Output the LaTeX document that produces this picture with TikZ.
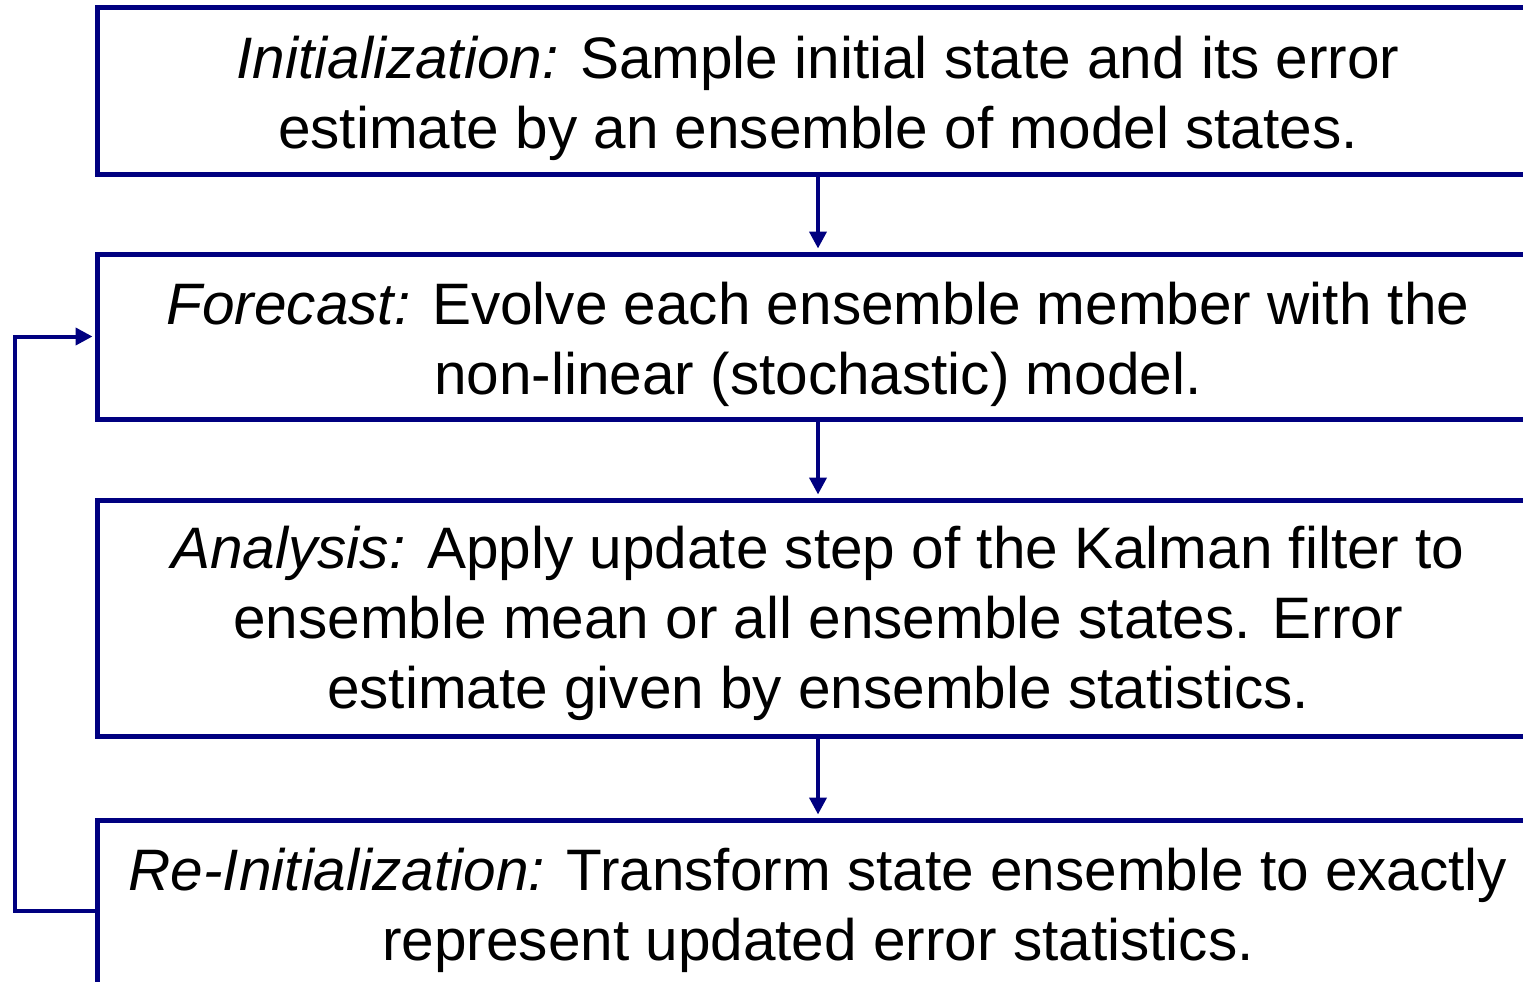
\documentclass[tikz,border=0pt]{standalone}
\usepackage{fontspec}
\setmainfont{Liberation Sans}
\usepackage{xcolor}
\usepackage{tikz}
\usetikzlibrary{arrows.meta,positioning}
\definecolor{navy}{RGB}{0,0,128}
\tikzset{stage/.style={rectangle,draw=navy,line width=5pt,minimum width=1442pt,align=center,inner sep=0pt,text depth=20pt,font=\fontsize{58.5}{70}\selectfont}}

\begin{document}
\begin{tikzpicture}[x=1pt,y=-1pt,>={Triangle[length=17pt,width=17pt]}]
    \useasboundingbox (0,0) rectangle (1523,982);
    \clip (0,0) rectangle (1523,982);
    \node[stage,minimum height=166pt,text height=134pt] (init) at (818,91) {{\itshape Initialization:} Sample initial state and its error\\estimate by an ensemble of model states.};
    \node[stage,minimum height=165pt,text height=135pt] (fcst) at (818,336.5) {{\itshape Forecast:} Evolve each ensemble member with the\\non-linear (stochastic) model.};
    \node[stage,minimum height=236pt,text height=200pt] (anal) at (818,618) {{\itshape Analysis:} Apply update step of the Kalman filter to\\ensemble mean or all ensemble states. Error\\estimate given by ensemble statistics.};
    \node[stage,minimum height=182pt,text height=118pt] (reinit) at (818,911) {{\itshape Re-Initialization:} Transform state ensemble to exactly\\represent updated error statistics.};

    \draw [navy,line width=4pt,->,shorten >=3pt] (init) to [] (fcst);
    \draw [navy,line width=4pt,->,shorten >=3pt] (fcst) to [] (anal);
    \draw [navy,line width=4pt,->,shorten >=3pt] (anal) to [] (reinit);
    \draw [navy,line width=4pt,->,shorten >=2pt] (reinit.west) -- ++(-80,0) |- (fcst.west);
\end{tikzpicture}
\end{document}
